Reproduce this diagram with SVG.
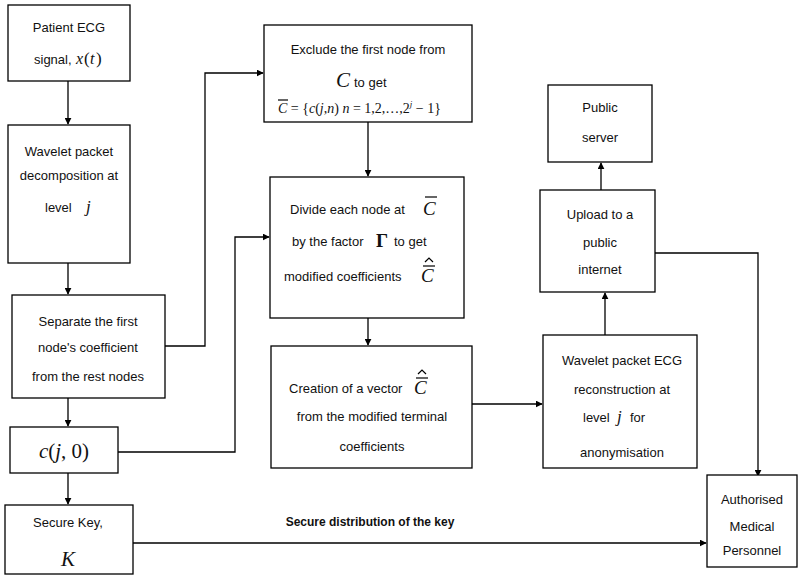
<svg xmlns="http://www.w3.org/2000/svg" width="800" height="575" viewBox="0 0 800 575">
<style>
.box{fill:#fff;stroke:#000;stroke-width:1.3}
.t{font-family:"Liberation Sans",Arial,sans-serif;font-size:13px;fill:#111;text-anchor:middle}
.s{font-family:"Liberation Sans",Arial,sans-serif;font-size:13px;fill:#111}
.m{font-family:"Liberation Serif","Times New Roman",serif;font-style:italic;fill:#111}
.r{font-family:"Liberation Serif","Times New Roman",serif;fill:#111}
.c{fill:none;stroke:#000;stroke-width:1.3}
.ov{stroke:#000;stroke-width:1.2;fill:none}
</style>
<defs>
<marker id="ah" viewBox="0 0 10 10" refX="9" refY="5" markerWidth="7" markerHeight="7" orient="auto" markerUnits="userSpaceOnUse">
<path d="M0,0 L10,5 L0,10 z" fill="#000"/>
</marker>
</defs>
<rect width="800" height="575" fill="#fff"/>

<g id="connectors">
<line class="c" x1="68" y1="81" x2="68" y2="124" marker-end="url(#ah)"/>
<line class="c" x1="68" y1="263" x2="68" y2="294" marker-end="url(#ah)"/>
<line class="c" x1="68" y1="398" x2="68" y2="426" marker-end="url(#ah)"/>
<line class="c" x1="68" y1="473" x2="68" y2="504" marker-end="url(#ah)"/>
<polyline class="c" points="165,346 205,346 205,73 263,73" marker-end="url(#ah)"/>
<polyline class="c" points="118,452 235,452 235,237 269,237" marker-end="url(#ah)"/>
<line class="c" x1="368" y1="122" x2="368" y2="176" marker-end="url(#ah)"/>
<line class="c" x1="368" y1="318" x2="368" y2="345" marker-end="url(#ah)"/>
<line class="c" x1="472" y1="404" x2="542" y2="404" marker-end="url(#ah)"/>
<line class="c" x1="605" y1="335" x2="605" y2="293" marker-end="url(#ah)"/>
<line class="c" x1="601" y1="190" x2="601" y2="163" marker-end="url(#ah)"/>
<polyline class="c" points="655,253 758,253 758,476" marker-end="url(#ah)"/>
<line class="c" x1="133" y1="543" x2="706" y2="543" marker-end="url(#ah)"/>
<text class="t" x="370" y="526" font-weight="bold" style="font-size:12px">Secure distribution of the key</text>
</g>

<g id="patient">
<rect class="box" x="8" y="5" width="122" height="76"/>
<text class="t" x="69" y="32">Patient ECG</text>
<text class="s" x="34" y="64">signal,</text>
<text class="m" x="76" y="64" style="font-size:16px">x</text>
<text class="r" x="84" y="64" style="font-size:17px">(</text>
<text class="m" x="90" y="64" style="font-size:16px">t</text>
<text class="r" x="96" y="64" style="font-size:17px">)</text>
</g>

<g id="decomposition">
<rect class="box" x="8" y="125" width="122" height="138"/>
<text class="t" x="69" y="156">Wavelet packet</text>
<text class="t" x="69" y="180">decomposition at</text>
<text class="s" x="45" y="212">level</text>
<text class="m" x="86" y="212" style="font-size:17px">j</text>
</g>

<g id="separate">
<rect class="box" x="12" y="295" width="153" height="103"/>
<text class="t" x="88" y="326">Separate the first</text>
<text class="t" x="88" y="352">node's coefficient</text>
<text class="t" x="88" y="381">from the rest nodes</text>
</g>

<g id="c0">
<rect class="box" x="10" y="427" width="108" height="46"/>
<text class="r" x="64" y="458" text-anchor="middle" style="font-size:21px"><tspan class="m">c</tspan>(<tspan class="m">j</tspan>, 0)</text>
</g>

<g id="securekey">
<rect class="box" x="5" y="505" width="128" height="69"/>
<text class="t" x="68" y="527">Secure Key,</text>
<text class="m" x="68" y="566" text-anchor="middle" style="font-size:21px">K</text>
</g>

<g id="exclude">
<rect class="box" x="264" y="25" width="208" height="97"/>
<text class="t" x="368" y="54">Exclude the first node from</text>
<text class="m" x="336" y="87" style="font-size:21px">C</text>
<text class="s" x="354" y="87">to get</text>
<text class="r" x="278" y="113" style="font-size:14px"><tspan class="m">C</tspan> = {<tspan class="m">c</tspan>(<tspan class="m">j</tspan>,<tspan class="m">n</tspan>)   <tspan class="m">n</tspan> = 1,2,…,2<tspan class="m" style="font-size:9px" dy="-6">j</tspan><tspan dy="6"> − 1}</tspan></text>
<line class="ov" x1="278" y1="100" x2="288" y2="100"/>
</g>

<g id="divide">
<rect class="box" x="270" y="177" width="194" height="141"/>
<text class="s" x="290" y="214">Divide each node at</text>
<text class="m" x="423" y="215" style="font-size:19px">C</text>
<line class="ov" x1="425" y1="197" x2="437" y2="197"/>
<text class="s" x="292" y="246">by the factor</text>
<text class="r" x="376" y="247" font-weight="bold" style="font-size:19px">Γ</text>
<text class="s" x="394" y="246">to get</text>
<text class="s" x="284" y="281">modified coefficients</text>
<text class="m" x="421" y="282" style="font-size:19px">C</text>
<line class="ov" x1="423" y1="266" x2="435" y2="266"/>
<path class="ov" d="M425,262 L429,258 L433,262"/>
</g>

<g id="creation">
<rect class="box" x="271" y="346" width="201" height="122"/>
<text class="s" x="289" y="393">Creation of a vector</text>
<text class="m" x="414" y="394" style="font-size:19px">C</text>
<line class="ov" x1="416" y1="378" x2="428" y2="378"/>
<path class="ov" d="M418,374 L422,370 L426,374"/>
<text class="t" x="372" y="421">from the modified terminal</text>
<text class="t" x="372" y="451">coefficients</text>
</g>

<g id="reconstruction">
<rect class="box" x="543" y="335" width="154" height="133"/>
<text class="t" x="622" y="365">Wavelet packet ECG</text>
<text class="t" x="622" y="394">reconstruction at</text>
<text class="s" x="583" y="422">level</text>
<text class="m" x="617" y="422" style="font-size:17px">j</text>
<text class="s" x="630" y="422">for</text>
<text class="t" x="622" y="457">anonymisation</text>
</g>

<g id="upload">
<rect class="box" x="540" y="190" width="115" height="102"/>
<text class="t" x="600" y="219">Upload to a</text>
<text class="t" x="600" y="247">public</text>
<text class="t" x="600" y="274">internet</text>
</g>

<g id="server">
<rect class="box" x="548" y="85" width="104" height="77"/>
<text class="t" x="600" y="112">Public</text>
<text class="t" x="600" y="142">server</text>
</g>

<g id="authorised">
<rect class="box" x="707" y="475" width="90" height="92"/>
<text class="t" x="752" y="504">Authorised</text>
<text class="t" x="752" y="531">Medical</text>
<text class="t" x="752" y="555">Personnel</text>
</g>
</svg>
